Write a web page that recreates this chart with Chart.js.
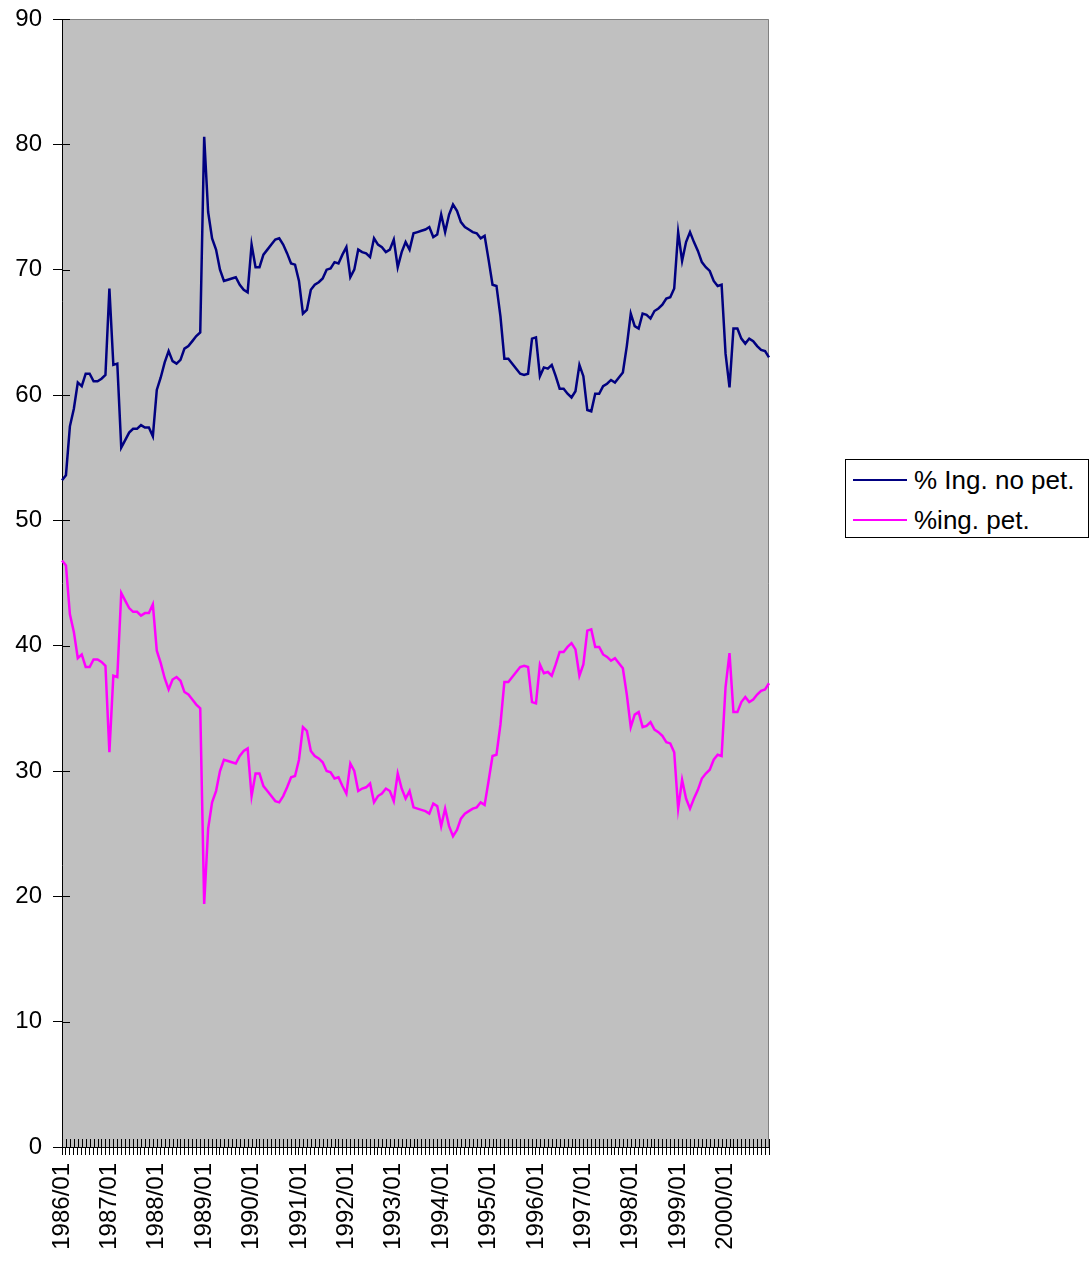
<!DOCTYPE html>
<html>
<head>
<meta charset="utf-8">
<script src="https://cdn.jsdelivr.net/npm/chart.js@4/dist/chart.umd.min.js"></script>
<style>
  body { margin: 0; background: #fff; }
  #wrap { position: relative; width: 1091px; height: 1269px; }
  #legend {
    position: absolute; left: 845px; top: 459px; width: 242px; height: 77px;
    border: 1px solid #000; background: #fff;
    font-family: "Liberation Sans", Arial, sans-serif; font-size: 26px; color: #000;
  }
  .row { position: absolute; left: 0; height: 30px; line-height: 30px; white-space: nowrap; }
  .swatch { position: absolute; left: 7px; top: 14px; width: 54px; height: 2px; }
  .label { position: absolute; left: 68px; top: 0; }
</style>
</head>
<body>
<div id="wrap">
  <canvas id="chart" width="1091" height="1269"></canvas>
  <div id="legend"></div>
</div>
<script>
const years = [1986, 1987, 1988, 1989, 1990, 1991, 1992, 1993, 1994, 1995, 1996, 1997, 1998, 1999, 2000];
const months = ['01', '02', '03', '04', '05', '06', '07', '08', '09', '10', '11', '12'];

const seriesNames = ['% Ing. no pet.', '%ing. pet.'];
const seriesColors = ['#000080', '#FF00FF'];

// % ingresos no petroleros, monthly 1986/01 - 2000/12
const noPetroleo = [
  53.2, 53.6, 57.5, 58.9, 61.0, 60.7, 61.7, 61.7, 61.1, 61.1, 61.3, 61.6,
  68.5, 62.4, 62.5, 55.8, 56.4, 57.0, 57.3, 57.3, 57.6, 57.4, 57.4, 56.7,
  60.4, 61.4, 62.6, 63.5, 62.7, 62.5, 62.8, 63.7, 63.9, 64.3, 64.7, 65.0,
  80.6, 74.6, 72.5, 71.6, 70.0, 69.1, 69.2, 69.3, 69.4, 68.8, 68.4, 68.2,
  72.0, 70.2, 70.2, 71.2, 71.6, 72.0, 72.4, 72.5, 72.0, 71.3, 70.5, 70.4,
  69.1, 66.5, 66.8, 68.4, 68.8, 69.0, 69.3, 70.0, 70.1, 70.6, 70.5, 71.2,
  71.8, 69.4, 70.0, 71.6, 71.4, 71.3, 71.0, 72.5, 72.0, 71.8, 71.4, 71.6,
  72.4, 70.2, 71.4, 72.2, 71.6, 72.9, 73.0, 73.1, 73.2, 73.4, 72.6, 72.8,
  74.4, 73.0, 74.4, 75.2, 74.7, 73.8, 73.4, 73.2, 73.0, 72.9, 72.5, 72.7,
  70.8, 68.8, 68.7, 66.3, 62.9, 62.9, 62.5, 62.1, 61.7, 61.6, 61.7, 64.5,
  64.6, 61.5, 62.2, 62.1, 62.4, 61.5, 60.5, 60.5, 60.1, 59.8, 60.3, 62.4,
  61.5, 58.8, 58.7, 60.1, 60.1, 60.7, 60.9, 61.2, 61.0, 61.4, 61.8, 63.9,
  66.5, 65.5, 65.3, 66.5, 66.4, 66.1, 66.7, 66.9, 67.2, 67.7, 67.8, 68.5,
  73.0, 70.7, 72.2, 73.0, 72.2, 71.5, 70.6, 70.2, 69.9, 69.1, 68.7, 68.8,
  63.3, 60.6, 65.3, 65.3, 64.5, 64.1, 64.5, 64.3, 63.9, 63.6, 63.5, 63.0
];

// % ingresos petroleros
const petroleo = [
  46.8, 46.4, 42.5, 41.1, 39.0, 39.3, 38.3, 38.3, 38.9, 38.9, 38.7, 38.4,
  31.5, 37.6, 37.5, 44.2, 43.6, 43.0, 42.7, 42.7, 42.4, 42.6, 42.6, 43.3,
  39.6, 38.6, 37.4, 36.5, 37.3, 37.5, 37.2, 36.3, 36.1, 35.7, 35.3, 35.0,
  19.4, 25.4, 27.5, 28.4, 30.0, 30.9, 30.8, 30.7, 30.6, 31.2, 31.6, 31.8,
  28.0, 29.8, 29.8, 28.8, 28.4, 28.0, 27.6, 27.5, 28.0, 28.7, 29.5, 29.6,
  30.9, 33.5, 33.2, 31.6, 31.2, 31.0, 30.7, 30.0, 29.9, 29.4, 29.5, 28.8,
  28.2, 30.6, 30.0, 28.4, 28.6, 28.7, 29.0, 27.5, 28.0, 28.2, 28.6, 28.4,
  27.6, 29.8, 28.6, 27.8, 28.4, 27.1, 27.0, 26.9, 26.8, 26.6, 27.4, 27.2,
  25.6, 27.0, 25.6, 24.8, 25.3, 26.2, 26.6, 26.8, 27.0, 27.1, 27.5, 27.3,
  29.2, 31.2, 31.3, 33.7, 37.1, 37.1, 37.5, 37.9, 38.3, 38.4, 38.3, 35.5,
  35.4, 38.5, 37.8, 37.9, 37.6, 38.5, 39.5, 39.5, 39.9, 40.2, 39.7, 37.6,
  38.5, 41.2, 41.3, 39.9, 39.9, 39.3, 39.1, 38.8, 39.0, 38.6, 38.2, 36.1,
  33.5, 34.5, 34.7, 33.5, 33.6, 33.9, 33.3, 33.1, 32.8, 32.3, 32.2, 31.5,
  27.0, 29.3, 27.8, 27.0, 27.8, 28.5, 29.4, 29.8, 30.1, 30.9, 31.3, 31.2,
  36.7, 39.4, 34.7, 34.7, 35.5, 35.9, 35.5, 35.7, 36.1, 36.4, 36.5, 37.0
];

const labels = [];
years.forEach(y => months.forEach(m => labels.push(y + '/' + m)));

Chart.defaults.font.family = '"Liberation Sans", Arial, sans-serif';
Chart.defaults.color = '#000';

const plotFrame = {
  id: 'plotFrame',
  beforeDraw(chart) {
    const { ctx, chartArea: a } = chart;
    ctx.save();
    ctx.fillStyle = '#C0C0C0';
    ctx.fillRect(a.left, a.top, a.right - a.left, a.bottom - a.top);
    ctx.restore();
  },
  beforeDatasetsDraw(chart) {
    const { ctx, chartArea: a } = chart;
    ctx.save();
    ctx.strokeStyle = '#808080';
    ctx.lineWidth = 1;
    ctx.beginPath();
    ctx.moveTo(a.left, a.top + 0.5);
    ctx.lineTo(a.right - 0.5, a.top + 0.5);
    ctx.lineTo(a.right - 0.5, a.bottom);
    ctx.stroke();
    // inner halves of the cross tick marks
    ctx.strokeStyle = '#000';
    ctx.beginPath();
    const xs = chart.scales.x, ys = chart.scales.y;
    xs.ticks.forEach((t, i) => {
      const x = Math.round(xs.getPixelForTick(i)) + 0.5;
      ctx.moveTo(x, a.bottom);
      ctx.lineTo(x, a.bottom - 8);
    });
    ys.ticks.forEach((t, i) => {
      const y = Math.round(ys.getPixelForTick(i)) + 0.5;
      ctx.moveTo(a.left, y);
      ctx.lineTo(a.left + 8, y);
    });
    ctx.stroke();
    ctx.restore();
  }
};

new Chart(document.getElementById('chart'), {
  type: 'line',
  data: {
    labels: labels,
    datasets: [
      { label: seriesNames[0], data: noPetroleo, borderColor: seriesColors[0], borderWidth: 2.5 },
      { label: seriesNames[1], data: petroleo, borderColor: seriesColors[1], borderWidth: 2.5 }
    ]
  },
  options: {
    responsive: false,
    devicePixelRatio: 1,
    animation: false,
    elements: { point: { radius: 0 }, line: { tension: 0 } },
    layout: { padding: { top: 19, right: 322, bottom: 0, left: 0 } },
    plugins: { legend: { display: false }, tooltip: { enabled: false } },
    scales: {
      x: {
        offset: false,
        grid: { drawOnChartArea: false, tickLength: 8, color: '#000' },
        border: { color: '#000' },
        ticks: {
          autoSkip: false, minRotation: 90, maxRotation: 90, padding: 8,
          font: { size: 24 },
          callback: function (v, i) {
            const l = labels[i];
            return l.endsWith('/01') ? l : '';
          }
        },
        afterFit: s => { s.height = 122; s.paddingLeft = 0; s.paddingRight = 0; }
      },
      y: {
        min: 0, max: 90,
        grid: { drawOnChartArea: false, tickLength: 9, color: '#000' },
        border: { color: '#000' },
        ticks: { stepSize: 10, padding: 11, font: { size: 24 } },
        afterFit: s => { s.width = 62; s.paddingTop = 0; s.paddingBottom = 0; }
      }
    }
  },
  plugins: [plotFrame]
});

const legend = document.getElementById('legend');
seriesNames.forEach((name, i) => {
  const row = document.createElement('div');
  row.className = 'row';
  row.style.top = (5 + i * 40) + 'px';
  row.style.width = '100%';
  row.innerHTML = '<span class="swatch" style="background:' + seriesColors[i] + '"></span>' +
    '<span class="label">' + name + '</span>';
  legend.appendChild(row);
});
</script>
</body>
</html>
